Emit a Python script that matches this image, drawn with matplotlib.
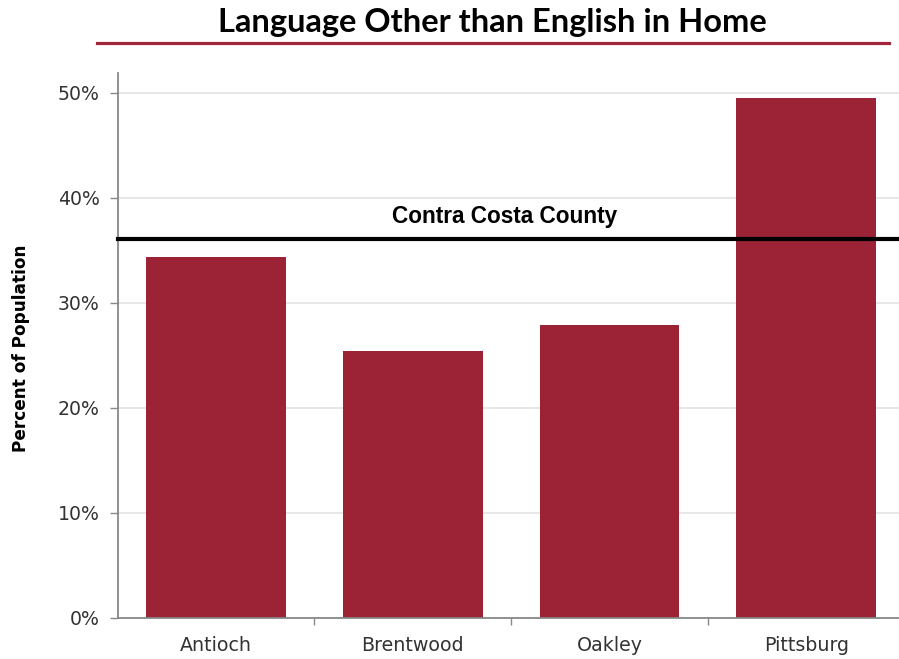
import matplotlib.pyplot as plt
from matplotlib.ticker import PercentFormatter, FixedLocator
from matplotlib.lines import Line2D

# Share of residents speaking a language other than English at home
cities = ["Antioch", "Brentwood", "Oakley", "Pittsburg"]
share = [0.344, 0.254, 0.279, 0.495]
county_share = 0.361
county_name = "Contra Costa County"

bar_color = "#9B2335"

fig = plt.figure(figsize=(8.99, 6.59), dpi=100)
ax = fig.add_axes([117.7 / 899, 41.3 / 659, 786.8 / 899, 544.7 / 659])

x = range(len(cities))
ax.bar(x, share, width=0.71, color=bar_color, zorder=2)
ax.set_xlim(-0.5, len(cities) - 0.5)
ax.set_ylim(0, 0.519)

# county reference line
ax.axhline(county_share, color="black", lw=3, zorder=3, clip_on=False)
ax.annotate(county_name, xy=(0.492, county_share), xycoords=("axes fraction", "data"),
            xytext=(0, 16), textcoords="offset points", ha="center", va="center",
            fontsize=16.3, fontweight="bold", family="Liberation Sans")

# y axis
ax.set_yticks([0, 0.1, 0.2, 0.3, 0.4, 0.5])
ax.yaxis.set_major_formatter(PercentFormatter(1.0, decimals=0))
ax.tick_params(axis="y", labelsize=13.6, colors="#333333", length=6, width=1, pad=7,
               color="#888888")
ax.grid(axis="y", color="#e3e3e3", lw=1.2, zorder=0)
ax.set_ylabel("Percent of Population", fontsize=12.2, fontweight="bold")
ax.yaxis.set_label_coords(-0.112, 0.494)

# x axis: labels centred, ticks between categories
ax.set_xticks(list(x))
ax.set_xticklabels(cities, fontsize=13.7, color="#333333")
ax.xaxis.set_minor_locator(FixedLocator([0.5, 1.5, 2.5]))
ax.tick_params(axis="x", which="major", length=0, pad=13.5)
ax.tick_params(axis="x", which="minor", length=5, width=1, color="#888888")

for side in ["top", "right"]:
    ax.spines[side].set_visible(False)
for side in ["left", "bottom"]:
    ax.spines[side].set_color("#888888")
    ax.spines[side].set_linewidth(1.3)

# title with red rule underneath
fig.text(0.548, 0.966, "Language Other than English in Home", ha="center", va="center",
         fontsize=23.5, fontweight="bold", family="Lato")
fig.add_artist(Line2D([97 / 899, 889 / 899], [1 - 43 / 659] * 2, color="#A0283A", lw=2.3))

fig.savefig("out.png", dpi=100)
